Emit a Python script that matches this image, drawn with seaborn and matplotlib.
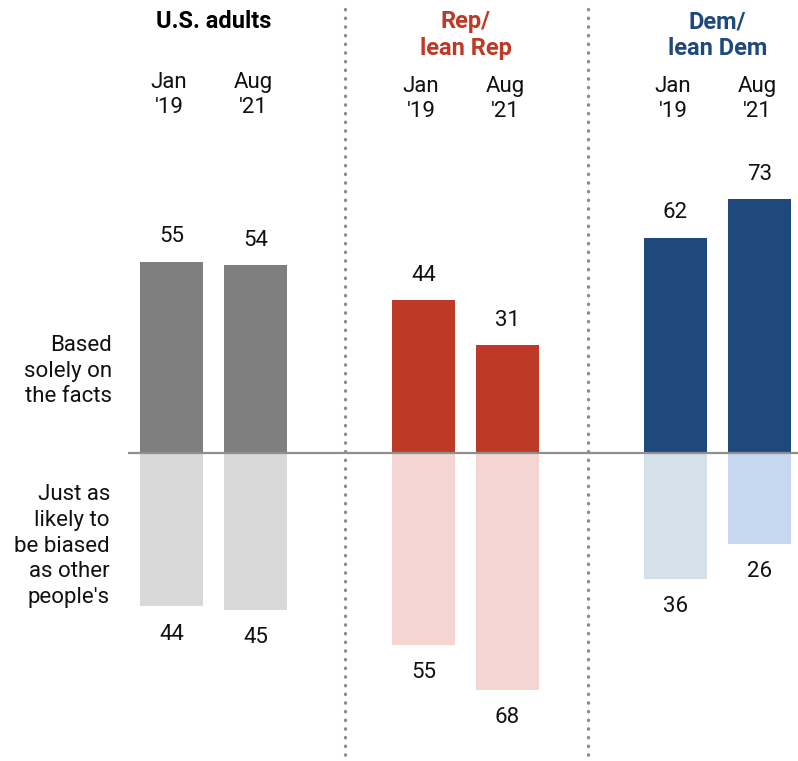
import matplotlib
matplotlib.use("Agg")
import matplotlib.pyplot as plt
import seaborn as sns
import pandas as pd

# ---- data ----
groups = ["U.S. adults", "Rep/\nlean Rep", "Dem/\nlean Dem"]
periods = ["Jan\n'19", "Aug\n'21"]
facts = [55, 54, 44, 31, 62, 73]
biased = [44, 45, 55, 68, 36, 26]

dark_colors = ["#7f7f7f", "#7f7f7f", "#bf3927", "#bf3927", "#1f497d", "#1f497d"]
light_colors = ["#d9d9d9", "#d9d9d9", "#f4d5d1", "#f4d5d1", "#d5e1ea", "#c6d8f0"]
header_colors = ["#000000", "#bf3927", "#1f497d"]

# slots: two bars per group, one empty spacer slot between groups
slots = ["g0p0", "g0p1", "s1", "g1p0", "g1p1", "s2", "g2p0", "g2p1"]
bar_slots = ["g0p0", "g0p1", "g1p0", "g1p1", "g2p0", "g2p1"]
slot_pos = {s: i for i, s in enumerate(slots)}

df_up = pd.DataFrame({"slot": bar_slots, "value": facts})
df_dn = pd.DataFrame({"slot": bar_slots, "value": [-v for v in biased]})

sns.set_theme(style="white")
plt.rcParams["font.family"] = ["Roboto", "DejaVu Sans"]

W, H = 798, 761
fig = plt.figure(figsize=(W / 100, H / 100), dpi=100)
ax = fig.add_axes([0, 0, 1, 1])

X0, XU = 171.5, 84.0       # pixel of slot 0, pixels per slot
Y0, YU = 453.3, 3.48       # pixel of baseline, pixels per unit


def px(x):
    return (x - X0) / XU


def py(y):
    return (Y0 - y) / YU


sns.barplot(data=df_up, x="slot", y="value", order=slots, hue="slot",
            palette=dict(zip(bar_slots, dark_colors)), width=0.75,
            legend=False, ax=ax, saturation=1, linewidth=0)
sns.barplot(data=df_dn, x="slot", y="value", order=slots, hue="slot",
            palette=dict(zip(bar_slots, light_colors)), width=0.75,
            legend=False, ax=ax, saturation=1, linewidth=0)

ax.set_xlim(px(0), px(W))
ax.set_ylim(py(H), py(0))
ax.axis("off")

# baseline
ax.plot([px(128), px(W)], [0, 0], color="#8f8f8f", lw=1.6, zorder=5,
        solid_capstyle="butt")

# dotted separators
for xp in (345, 588):
    ax.plot([px(xp), px(xp)], [py(9), py(756)], color="#8c8c8c", lw=2.4,
            linestyle=(0, (0.1, 2.5)), dash_capstyle="round", zorder=4)

fs = 16
hfs = 17
ls = 1.3
# value labels
for s, v in zip(bar_slots, facts):
    ax.text(slot_pos[s], v + py(453.3 - 25), str(v), ha="center", va="center",
            fontsize=fs, color="#111111")
for s, v in zip(bar_slots, biased):
    ax.text(slot_pos[s], -v - py(453.3 - 28), str(v), ha="center", va="center",
            fontsize=fs, color="#111111")

# group headers and period labels
for gi, (g, c) in enumerate(zip(groups, header_colors)):
    center = (slot_pos[f"g{gi}p0"] + slot_pos[f"g{gi}p1"]) / 2
    if gi == 0:
        ax.text(center, py(21), g, ha="center", va="center", fontsize=hfs,
                fontweight="bold", color=c)
        ty = 95
    else:
        ax.text(center, py(35), g, ha="center", va="center", fontsize=hfs,
                fontweight="bold", color=c, linespacing=1.2)
        ty = 99
    for pi, p in enumerate(periods):
        ax.text(slot_pos[f"g{gi}p{pi}"] - 0.03, py(ty), p, ha="center",
                va="center", fontsize=fs, color="#111111", linespacing=1.25)

# row labels
ax.text(px(112), py(371), "Based\nsolely on\nthe facts", ha="right",
        va="center", fontsize=fs, color="#111111", linespacing=ls)
ax.text(px(110), py(546), "Just as\nlikely to\nbe biased\nas other\npeople's",
        ha="right", va="center", fontsize=fs, color="#111111", linespacing=ls)

fig.savefig("out.png", dpi=100)
